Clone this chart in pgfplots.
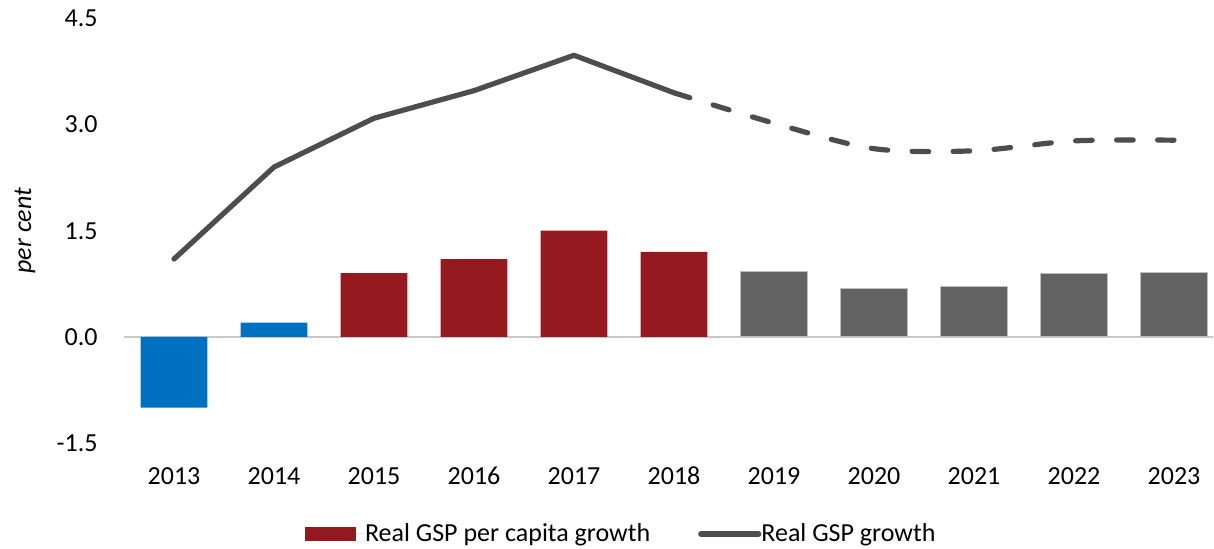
\documentclass[border=0pt]{standalone}
\usepackage{fontspec}
\setmainfont{Carlito}
\usepackage{pgfplots}
\pgfplotsset{compat=1.18}
\definecolor{gspblue}{HTML}{0070C0}
\definecolor{gspred}{HTML}{941A1F}
\definecolor{gspgray}{HTML}{636363}
\definecolor{gspline}{HTML}{4D4D4D}
\definecolor{zeroline}{HTML}{C8C8C8}
\newcommand\chartfont{\fontsize{13}{15.6}\selectfont}
\begin{document}
\begin{tikzpicture}
\begin{axis}[
  scale only axis,
  width=544.5pt, height=212.25pt,
  xmin=-0.5, xmax=10.39, ymin=-1.5, ymax=4.5,
  axis line style={draw=none},
  tick style={draw=none},
  major tick length=0pt,
  xtick={0,1,2,3,4,5,6,7,8,9,10},
  xticklabels={2013,2014,2015,2016,2017,2018,2019,2020,2021,2022,2023},
  ytick={-1.5,0,1.5,3,4.5},
  yticklabels={-1.5,0.0,1.5,3.0,4.5},
  tick label style={font=\chartfont},
  xticklabel style={anchor=center, inner sep=0pt, yshift=-16.5pt},
  yticklabel style={anchor=east, inner sep=0pt, xshift=-13pt},
  extra y ticks={0},
  extra y tick labels={},
  extra y tick style={grid=major, major grid style={draw=zeroline, line width=0.9pt}},
  legend columns=2,
  legend style={at={(0,0)}, anchor=west, xshift=90.25pt, yshift=-45.5pt,
    draw=none, fill=none, inner sep=0pt, outer sep=0pt,
    font=\chartfont, nodes={inner sep=0pt, anchor=west},
    /tikz/every even column/.append style={column sep=24pt}},
]
\addplot[ybar, bar width=33.3pt, bar shift=0pt, fill=gspblue, draw=none, forget plot]
  coordinates {(0,-1.0) (1,0.2)};
\addplot[ybar, bar width=33.3pt, bar shift=0pt, fill=gspred, draw=none,
  legend image code/.code={\fill[gspred] (0pt,-3.5pt) rectangle (25.75pt,3.5pt); \path (0pt,0pt) -- (30.25pt,0pt);}]
  coordinates {(2,0.9) (3,1.1) (4,1.5) (5,1.2)};
\addlegendentry{Real GSP per capita growth}
\addplot[ybar, bar width=33.3pt, bar shift=0pt, fill=gspgray, draw=black!25, line width=0.5pt, forget plot]
  coordinates {(6,0.93) (7,0.68) (8,0.71) (9,0.89) (10,0.91)};
\addplot[gspline, line width=2.6pt, line cap=round, line join=round, mark=none,
  legend image code/.code={\draw[gspline, line width=2.6pt, line cap=round] (1.3pt,0pt) -- (26.2pt,0pt); \path (0pt,0pt) -- (29pt,0pt);}]
  coordinates {(0,1.1) (1,2.4) (2,3.09) (3,3.48) (4,3.98) (5,3.45)};
\addlegendentry{Real GSP growth}
\addplot[gspline, line width=2.6pt, line cap=round, smooth, mark=none, forget plot,
  dash pattern=on 8.3pt off 12.2pt]
  coordinates {(5,3.45) (6,3.02) (7,2.66) (8,2.63) (9,2.77) (10,2.78)};
\coordinate (BL) at (rel axis cs:0,0);
\coordinate (TR) at (rel axis cs:1,1);
\coordinate (ML) at (rel axis cs:0,0.5);
\end{axis}
\node[rotate=90, font=\chartfont\itshape] at ([xshift=-49.5pt]ML) {per cent};
\pgfresetboundingbox
\path ([xshift=-62pt,yshift=-53pt]BL) rectangle ([xshift=0.5pt,yshift=9.25pt]TR);
\end{tikzpicture}
\end{document}
